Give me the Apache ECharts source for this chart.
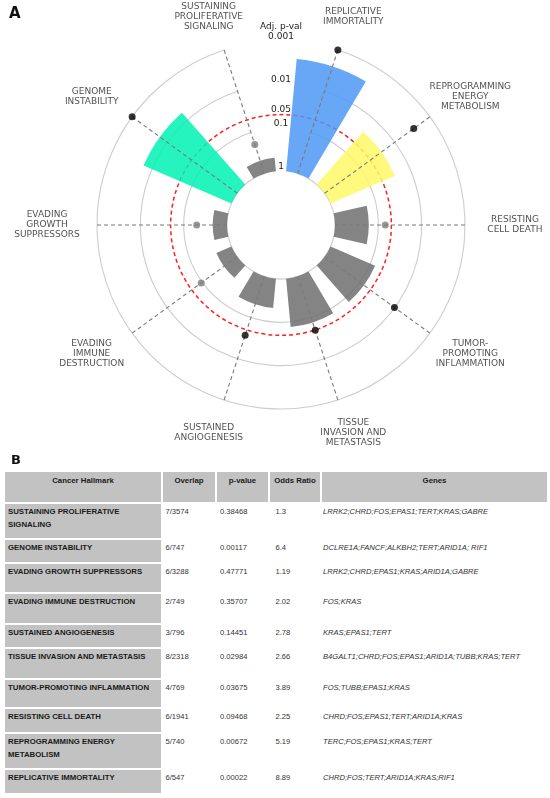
<!DOCTYPE html>
<html>
<head>
<meta charset="utf-8">
<script src="https://cdn.jsdelivr.net/npm/echarts@6/dist/echarts.min.js"></script>
<style>
html,body{margin:0;padding:0;background:#fff;}
#wrap{position:relative;width:550px;height:798px;overflow:hidden;background:#fff;}
#chart{position:absolute;left:0;top:0;width:550px;height:470px;}
#tbl{position:absolute;left:3px;top:470px;border-collapse:separate;border-spacing:2px;table-layout:fixed;width:546px;font-family:'Liberation Sans',Arial,sans-serif;}
#tbl th{background:#c2c2c2;font-weight:bold;font-size:7.8px;color:#1a1a1a;vertical-align:top;text-align:center;padding:3px 0 0 0;line-height:11px;}
#tbl td{vertical-align:top;font-size:7.6px;color:#333;padding:1px 0 0 0;line-height:13px;white-space:normal;}
#tbl td.h{background:#c2c2c2;font-weight:bold;font-size:7.8px;color:#1a1a1a;padding-left:3px;}
#tbl td.o{padding-left:2.5px;}
#tbl td.p{padding-left:3px;}
#tbl td.r{padding-left:5.5px;}
#tbl td.g{font-style:italic;padding-left:1px;}
</style>
</head>
<body>
<div id="wrap">
  <div id="chart"></div>
  <table id="tbl"></table>
</div>
<script>
// ---------- data ----------
const hallmarks = [
  'SUSTAINING PROLIFERATIVE SIGNALING',
  'GENOME INSTABILITY',
  'EVADING GROWTH SUPPRESSORS',
  'EVADING IMMUNE DESTRUCTION',
  'SUSTAINED ANGIOGENESIS',
  'TISSUE INVASION AND METASTASIS',
  'TUMOR-PROMOTING INFLAMMATION',
  'RESISTING CELL DEATH',
  'REPROGRAMMING ENERGY METABOLISM',
  'REPLICATIVE IMMORTALITY'
];
const chartLabels = [
  'SUSTAINING\nPROLIFERATIVE\nSIGNALING',
  'GENOME\nINSTABILITY',
  'EVADING\nGROWTH\nSUPPRESSORS',
  'EVADING\nIMMUNE\nDESTRUCTION',
  'SUSTAINED\nANGIOGENESIS',
  'TISSUE\nINVASION AND\nMETASTASIS',
  'TUMOR-\nPROMOTING\nINFLAMMATION',
  'RESISTING\nCELL DEATH',
  'REPROGRAMMING\nENERGY\nMETABOLISM',
  'REPLICATIVE\nIMMORTALITY'
];
// bar length: -log10(adjusted p-value)
const adjPNegLog10 = [0.31, 2.21, 0.33, 0.38, 0.68, 1.12, 1.12, 0.78, 1.62, 2.60];
// marker position on the same radial scale
const oddsMarker = [0.71, 3.0, 0.70, 1.03, 1.43, 1.31, 1.99, 1.16, 2.54, 3.0];

// table columns
const overlap = ['7/3574','6/747','6/3288','2/749','3/796','8/2318','4/769','6/1941','5/740','6/547'];
const pValues = ['0.38468','0.00117','0.47771','0.35707','0.14451','0.02984','0.03675','0.09468','0.00672','0.00022'];
const oddsRatios = ['1.3','6.4','1.19','2.02','2.78','2.66','3.89','2.25','5.19','8.89'];
const genes = [
  'LRRK2;CHRD;FOS;EPAS1;TERT;KRAS;GABRE',
  'DCLRE1A;FANCF;ALKBH2;TERT;ARID1A; RIF1',
  'LRRK2;CHRD;EPAS1;KRAS;ARID1A;GABRE',
  'FOS;KRAS',
  'KRAS;EPAS1;TERT',
  'B4GALT1;CHRD;FOS;EPAS1;ARID1A;TUBB;KRAS;TERT',
  'FOS;TUBB;EPAS1;KRAS',
  'CHRD;FOS;EPAS1;TERT;ARID1A;KRAS',
  'TERC;FOS;EPAS1;KRAS;TERT',
  'CHRD;FOS;TERT;ARID1A;KRAS;RIF1'
];
const tableHeaders = ['Cancer Hallmark','Overlap','p-value','Odds Ratio','Genes'];

// radial tick labels
const pTickValues = [0, 1, 1.301, 2, 3];
const pTickLabels = ['1', '0.1', '0.05', '0.01', '0.001'];

// ---------- layout / style ----------
const SIG = 1.301;             // -log10(0.05)
const CENTER = [281, 225];
const RADIUS = [54, 184];
const LABEL_R = 3.80;          // radial position of category labels
const LABEL_HSTRETCH = 0.07;   // labels sit on a slightly wider ellipse
const FONT = "'DejaVu Sans', sans-serif";
const barPalette = {
  'GENOME INSTABILITY': '#00F2B3',
  'REPLICATIVE IMMORTALITY': '#4E98F4',
  'REPROGRAMMING ENERGY METABOLISM': '#FFF866'
};
const colWidths = [156, 52, 51, 50, 225];
const headerHeight = 30;
const rowHeights = [34, 22, 28, 29, 22, 29, 27, 23, 34, 23];

// ---------- chart ----------
const chart = echarts.init(document.getElementById('chart'), null, {renderer: 'canvas'});
const option = {
  animation: false,
  backgroundColor: '#fff',
  title: [
    {text: 'A', left: 9, top: 7, padding: 0, textStyle: {fontSize: 15, fontWeight: 'bold', fontFamily: FONT, color: '#111'}},
    {text: 'B', left: 11, top: 454, padding: 0, textStyle: {fontSize: 13, fontWeight: 'bold', fontFamily: FONT, color: '#111'}}
  ],
  polar: [
    {center: CENTER, radius: RADIUS},
    {center: CENTER, radius: RADIUS}
  ],
  angleAxis: [
    {
      polarIndex: 0, type: 'category', data: hallmarks,
      startAngle: 108, clockwise: false, boundaryGap: false, z: 10,
      axisLine: {show: false},
      axisTick: {show: false, interval: 0},
      axisLabel: {show: false, interval: 0},
      splitLine: {show: true, interval: 0, lineStyle: {color: '#7a7a7a', width: 1.1, type: [4, 3]}}
    },
    {polarIndex: 1, type: 'value', min: 0, max: 360, startAngle: 90, show: false}
  ],
  radiusAxis: [
    {
      polarIndex: 0, type: 'value', min: 0, max: 3, interval: 1,
      axisLine: {show: false}, axisTick: {show: false}, axisLabel: {show: false},
      splitLine: {show: true, lineStyle: {color: '#cdcdcd', width: 1.1}}
    },
    {
      polarIndex: 1, type: 'value', min: 0, max: 3, interval: SIG,
      name: 'Adj. p-val', nameLocation: 'end', nameGap: 10,
      nameTextStyle: {fontFamily: FONT, fontSize: 9, color: '#222', align: 'center', verticalAlign: 'bottom'},
      axisLine: {show: false}, axisTick: {show: false},
      axisLabel: {
        show: true, customValues: pTickValues, margin: 0,
        align: 'center', verticalAlign: 'bottom',
        fontFamily: FONT, fontSize: 9, color: '#222',
        formatter: function (v) {
          const i = pTickValues.findIndex(t => Math.abs(t - v) < 1e-6);
          return i >= 0 ? pTickLabels[i] : '';
        }
      },
      splitLine: {show: true, lineStyle: {color: ['rgba(0,0,0,0)', '#ff1f1f', 'rgba(0,0,0,0)', 'rgba(0,0,0,0)'], width: 1.5, type: [4, 3]}}
    }
  ],
  series: [
    {
      type: 'bar', coordinateSystem: 'polar', polarIndex: 0, silent: true,
      barWidth: '70%', z: 2,
      data: adjPNegLog10.map((v, i) => ({
        value: v,
        itemStyle: {color: v >= SIG ? barPalette[hallmarks[i]] : '#6e6e6e', opacity: 0.85}
      }))
    },
    {
      type: 'scatter', coordinateSystem: 'polar', polarIndex: 0, silent: true, z: 12,
      symbolSize: 7,
      data: oddsMarker.map((v, i) => ({
        value: [v, hallmarks[i]],
        itemStyle: {color: parseFloat(oddsRatios[i]) > 2.5 ? '#000000' : '#7c7c7c'}
      }))
    },
    {
      type: 'scatter', coordinateSystem: 'polar', polarIndex: 0, silent: true, clip: false, z: 5,
      symbolSize: 1, itemStyle: {color: 'rgba(0,0,0,0)'},
      data: hallmarks.map(h => [LABEL_R, h]),
      label: {
        show: true, position: 'inside', align: 'center', verticalAlign: 'middle',
        fontFamily: FONT, fontSize: 9, lineHeight: 10, color: '#1e1e1e',
        formatter: p => chartLabels[p.dataIndex]
      },
      labelLayout: function (params) {
        const r = params.rect;
        const x = r.x + r.width / 2;
        return {dx: (x - CENTER[0]) * LABEL_HSTRETCH};
      }
    }
  ]
};
chart.setOption(option);

// ---------- table ----------
const tbl = document.getElementById('tbl');
let html = '<colgroup>' + colWidths.map(w => '<col style="width:' + w + 'px">').join('') + '</colgroup>';
html += '<tr style="height:' + headerHeight + 'px">' + tableHeaders.map(h => '<th>' + h + '</th>').join('') + '</tr>';
hallmarks.forEach((h, i) => {
  html += '<tr style="height:' + rowHeights[i] + 'px">' +
    '<td class="h">' + h + '</td>' +
    '<td class="o">' + overlap[i] + '</td>' +
    '<td class="p">' + pValues[i] + '</td>' +
    '<td class="r">' + oddsRatios[i] + '</td>' +
    '<td class="g">' + genes[i] + '</td></tr>';
});
tbl.innerHTML = html;
</script>
</body>
</html>
